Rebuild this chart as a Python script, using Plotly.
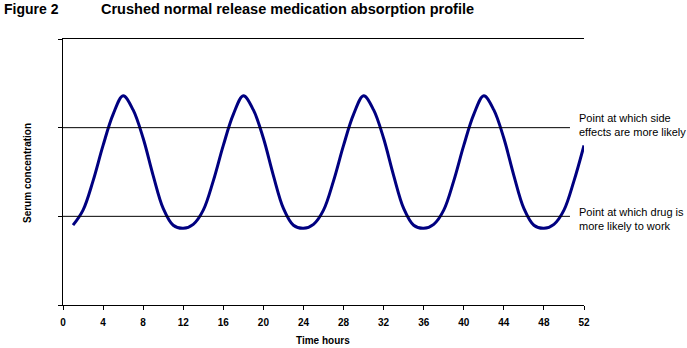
import plotly.graph_objects as go

# Data
hours = list(range(1, 53))
serum = [
    0.90, 1.07, 1.40, 1.80, 2.15, 2.36, 2.20, 1.88, 1.46, 1.09, 0.90, 0.865,
    0.91, 1.07, 1.40, 1.80, 2.15, 2.36, 2.20, 1.88, 1.46, 1.09, 0.90, 0.865,
    0.91, 1.07, 1.40, 1.80, 2.15, 2.36, 2.20, 1.88, 1.46, 1.09, 0.90, 0.865,
    0.91, 1.07, 1.40, 1.80, 2.15, 2.36, 2.20, 1.88, 1.46, 1.09, 0.90, 0.865,
    0.91, 1.07, 1.40, 1.80,
]
x_ticks = list(range(0, 53, 4))
y_ticks = [0, 1, 2, 3]
side_effect_level = 2
work_level = 1
ref_line_end = 50.6

FONT = "Arial, Liberation Sans, sans-serif"

fig = go.Figure()
fig.add_trace(go.Scatter(
    x=hours, y=serum, mode="lines",
    line=dict(color="#000080", width=3, shape="spline", smoothing=1.0),
    hoverinfo="skip", showlegend=False,
))

for lvl in (side_effect_level, work_level):
    fig.add_shape(type="line", xref="x", yref="y", x0=0, x1=ref_line_end, y0=lvl, y1=lvl,
                  line=dict(color="black", width=1))

fig.update_layout(
    width=687, height=348,
    margin=dict(l=63, r=103, t=39, b=43),
    paper_bgcolor="white", plot_bgcolor="white",
    font=dict(family=FONT, color="black"),
    xaxis=dict(
        range=[0, 52], tickvals=x_ticks, ticks="outside", ticklen=4, tickwidth=1,
        tickcolor="black", showline=True, linecolor="black", linewidth=1,
        showgrid=False, zeroline=False, ticklabelstandoff=4,
        tickfont=dict(family=FONT, size=10, color="black", weight="bold"),
    ),
    xaxis2=dict(
        range=[0, 52], overlaying="x", side="top", showline=True, linecolor="black",
        linewidth=1, ticks="", showticklabels=False, showgrid=False, zeroline=False,
    ),
    yaxis=dict(
        range=[0, 3], tickvals=y_ticks, showticklabels=False, ticks="outside",
        ticklen=4, tickwidth=1, tickcolor="black", showline=True, linecolor="black",
        linewidth=1, showgrid=False, zeroline=False,
    ),
)
# invisible helper trace so the top axis line is drawn
fig.add_trace(go.Scatter(x=[0], y=[0], xaxis="x2", mode="markers",
                         marker=dict(opacity=0), hoverinfo="skip", showlegend=False))

W, H = 687, 348
L, R, T, B = 63, 103, 39, 43
pw, ph = W - L - R, H - T - B

def px(x):
    return (x - L) / pw

def py(y):
    return (H - B - y) / ph

annotations = [
    dict(text="<b>Figure 2</b>", x=px(2), y=py(9), size=14),
    dict(text="<b>Crushed normal release medication absorption profile</b>", x=px(99), y=py(9), size=14.5),
    dict(text="Point at which side<br>effects are more likely", x=px(577), y=py(125), size=11),
    dict(text="Point at which drug is<br>more likely to work", x=px(577), y=py(219), size=11),
]
for a in annotations:
    size = a.pop("size")
    fig.add_annotation(**a, xref="paper", yref="paper", showarrow=False,
                       xanchor="left", yanchor="middle", align="left",
                       font=dict(family=FONT, size=size, color="black"))

fig.add_annotation(text="<b>Serum concentration</b>", x=px(27), y=py(173), xref="paper",
                   yref="paper", showarrow=False, textangle=-90, xanchor="center",
                   yanchor="middle", font=dict(family=FONT, size=10, color="black"))
fig.add_annotation(text="<b>Time hours</b>", x=px(323), y=py(340), xref="paper",
                   yref="paper", showarrow=False, xanchor="center", yanchor="middle",
                   font=dict(family=FONT, size=10, color="black"))

fig.write_html("out.html")
